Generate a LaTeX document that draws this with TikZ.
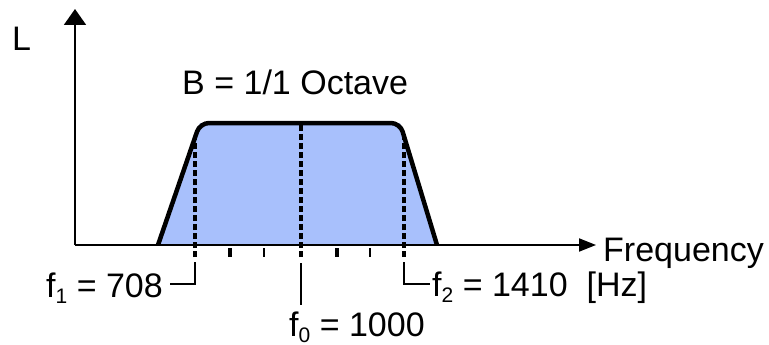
\documentclass[tikz,border=0pt]{standalone}
\usepackage{fontspec}
\setmainfont{Liberation Sans}
\usetikzlibrary{arrows.meta}
\definecolor{bandblue}{RGB}{168,192,252}
\newcommand\lowsub[1]{\raisebox{-6pt}{\fontsize{21}{21}\selectfont #1}}
\tikzset{
  axisline/.style={line width=2pt},
  edge/.style={line width=4.5pt, line join=round},
  dashmark/.style={line width=4.5pt, dash pattern=on 6pt off 3pt},
  leader/.style={line width=2pt},
  lbl/.style={inner sep=0pt, font=\fontsize{34}{40}\selectfont},
}
\begin{document}
\begin{tikzpicture}[x=1pt,y=-1pt]
\useasboundingbox (0,0) rectangle (769,345);
% band
\fill[bandblue] (158,245) -- (200,123) -- (400,123) -- (437,245) -- cycle;
% axes
\coordinate (o) at (75,245);
\coordinate (xend) at (596,245);
\coordinate (yend) at (75,9);
\draw[axisline,-{Triangle[length=17pt,width=13pt]}] (o) -- (xend);
\draw[axisline,-{Triangle[length=16pt,width=22pt]}] (o) -- (yend);
% trapezoid outline
\draw[edge, rounded corners=9pt] (158,245) -- (200,123) -- (400,123) -- (437,245);
% dashed lines
\coordinate (f1b) at (195,257); \coordinate (f1t) at (195,136);
\coordinate (f0b) at (301,257); \coordinate (f0t) at (301,124);
\coordinate (f2b) at (404,257); \coordinate (f2t) at (404,138);
\draw[dashmark] (f1b) -- (f1t);
\draw[dashmark] (f0b) -- (f0t);
\draw[dashmark] (f2b) -- (f2t);
% ticks
\foreach \xx/\w in {230/4.5pt,264/2.5pt,337/4.5pt,370/2.5pt}
  \draw[line width=\w] (\xx,248) -- (\xx,257);
% labels
\node[lbl, anchor=base west] (L) at (12,51) {L};
\node[lbl, anchor=base west] (B) at (182,95) {B = 1/1 Octave};
\node[lbl, anchor=base west] (freq) at (603,261) {Frequency};
\node[lbl, anchor=base east] (f1) at (163,297) {f\lowsub{1} = 708};
\node[lbl, anchor=base west] (f0) at (289,336) {f\lowsub{0} = 1000};
\node[lbl, anchor=base west] (f2) at (432,296) {f\lowsub{2} = 1410\ \ [Hz]};
% leaders
\coordinate (l1a) at (195,262); \coordinate (l1b) at (195,284); \coordinate (l1c) at (170,284);
\draw[leader] (l1a) -- (l1b) -- (l1c);
\coordinate (l0a) at (301,263); \coordinate (l0b) at (301,305);
\draw[leader] (l0a) -- (l0b);
\coordinate (l2a) at (404,262); \coordinate (l2b) at (404,284); \coordinate (l2c) at (430,284);
\draw[leader] (l2a) -- (l2b) -- (l2c);
\end{tikzpicture}
\end{document}
